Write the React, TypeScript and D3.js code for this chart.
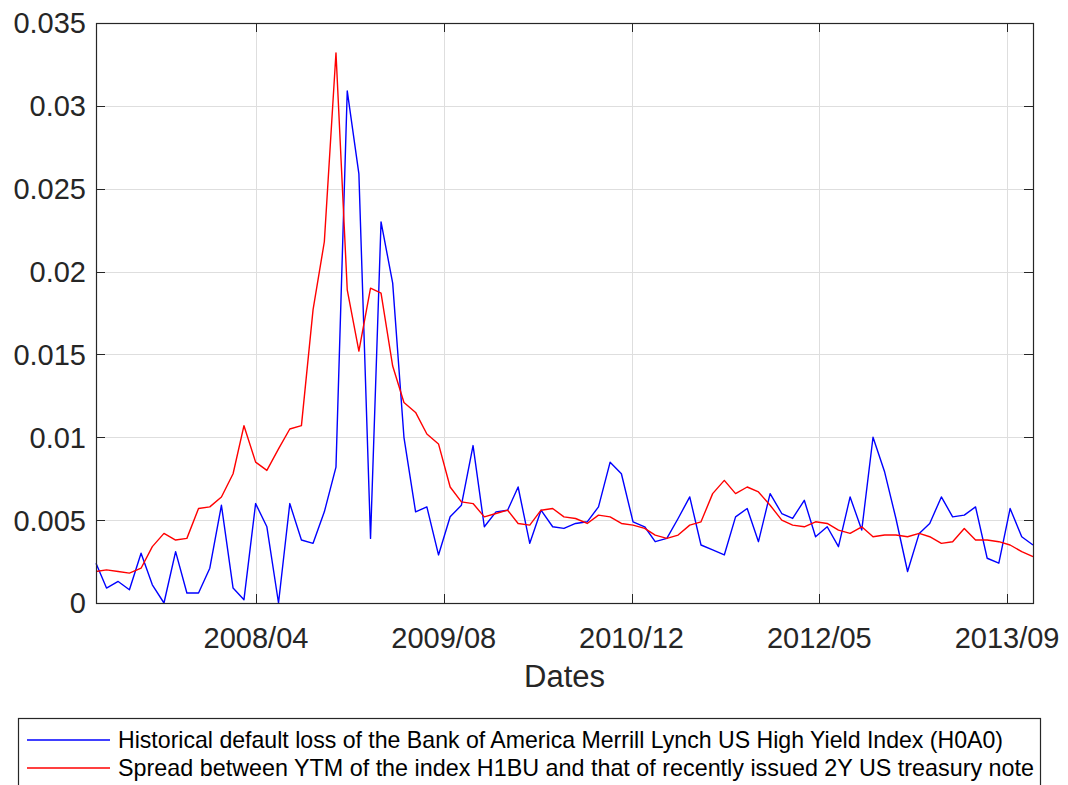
import React, { useEffect, useRef } from "react";
import * as d3 from "d3";

// monthly observations (end of month)
const months = [
  "2007/01", "2007/02", "2007/03", "2007/04", "2007/05", "2007/06", "2007/07", "2007/08", "2007/09", "2007/10", "2007/11", "2007/12",
  "2008/01", "2008/02", "2008/03", "2008/04", "2008/05", "2008/06", "2008/07", "2008/08", "2008/09", "2008/10", "2008/11", "2008/12",
  "2009/01", "2009/02", "2009/03", "2009/04", "2009/05", "2009/06", "2009/07", "2009/08", "2009/09", "2009/10", "2009/11", "2009/12",
  "2010/01", "2010/02", "2010/03", "2010/04", "2010/05", "2010/06", "2010/07", "2010/08", "2010/09", "2010/10", "2010/11", "2010/12",
  "2011/01", "2011/02", "2011/03", "2011/04", "2011/05", "2011/06", "2011/07", "2011/08", "2011/09", "2011/10", "2011/11", "2011/12",
  "2012/01", "2012/02", "2012/03", "2012/04", "2012/05", "2012/06", "2012/07", "2012/08", "2012/09", "2012/10", "2012/11", "2012/12",
  "2013/01", "2013/02", "2013/03", "2013/04", "2013/05", "2013/06", "2013/07", "2013/08", "2013/09", "2013/10", "2013/11",
];

const defaultLoss = [
  0.0024, 0.0009, 0.0013, 0.0008, 0.0030, 0.0011, 0.0000, 0.0031, 0.0006, 0.0006, 0.0021, 0.0059,
  0.0009, 0.0002, 0.0060, 0.0046, 0.0000, 0.0060, 0.0038, 0.0036, 0.0055, 0.0082, 0.0309, 0.0259,
  0.0039, 0.0230, 0.0193, 0.0100, 0.0055, 0.0058, 0.0029, 0.0052, 0.0059, 0.0095, 0.0046, 0.0055,
  0.0056, 0.0070, 0.0036, 0.0056, 0.0046, 0.0045, 0.0048, 0.0049, 0.0058, 0.0085, 0.0078, 0.0049,
  0.0046, 0.0037, 0.0039, 0.0051, 0.0064, 0.0035, 0.0032, 0.0029, 0.0052, 0.0057, 0.0037, 0.0066,
  0.0054, 0.0051, 0.0062, 0.0040, 0.0046, 0.0034, 0.0064, 0.0044, 0.0100, 0.0079, 0.0051, 0.0019,
  0.0042, 0.0048, 0.0064, 0.0052, 0.0053, 0.0058, 0.0027, 0.0024, 0.0057, 0.0040, 0.0035,
];

const spread = [
  0.0019, 0.0020, 0.0019, 0.0018, 0.0021, 0.0034, 0.0042, 0.0038, 0.0039, 0.0057, 0.0058, 0.0064,
  0.0078, 0.0107, 0.0085, 0.0080, 0.0093, 0.0105, 0.0107, 0.0177, 0.0218, 0.0332, 0.0189, 0.0152,
  0.0190, 0.0187, 0.0143, 0.0121, 0.0115, 0.0102, 0.0096, 0.0070, 0.0061, 0.0060, 0.0052, 0.0054,
  0.0056, 0.0048, 0.0047, 0.0056, 0.0057, 0.0052, 0.0051, 0.0048, 0.0053, 0.0052, 0.0048, 0.0047,
  0.0045, 0.0041, 0.0039, 0.0041, 0.0047, 0.0049, 0.0066, 0.0074, 0.0066, 0.0070, 0.0067, 0.0059,
  0.0050, 0.0047, 0.0046, 0.0049, 0.0048, 0.0044, 0.0042, 0.0046, 0.0040, 0.0041, 0.0041, 0.0040,
  0.0042, 0.0040, 0.0036, 0.0037, 0.0045, 0.0038, 0.0038, 0.0037, 0.0035, 0.0031, 0.0028,
];

const yTicks = [0, 0.005, 0.01, 0.015, 0.02, 0.025, 0.03, 0.035];
const yTickLabels = ["0", "0.005", "0.01", "0.015", "0.02", "0.025", "0.03", "0.035"];
const xTickDates = ["2008-04-01", "2009-08-14", "2010-12-27", "2012-05-10", "2013-09-22"];
const xTickLabels = ["2008/04", "2009/08", "2010/12", "2012/05", "2013/09"];
const seriesNames = [
  "Historical default loss of the Bank of America Merrill Lynch US High Yield Index (H0A0)",
  "Spread between YTM of the index H1BU and that of recently issued 2Y US treasury note",
];
const seriesColors = ["#0000ff", "#ff0000"];

const W = 1068;
const H = 785;
const plot = { left: 96, right: 1033, top: 23, bottom: 603 };
const axisColor = "#262626";
const font = "'Liberation Sans', Arial, Helvetica, sans-serif";

export default function App() {
  const ref = useRef<SVGSVGElement>(null);

  useEffect(() => {
    const svg = d3.select(ref.current);
    svg.selectAll("*").remove();

    const parseMonth = d3.timeParse("%Y/%m");
    const dates = months.map((m) => d3.timeDay.offset(d3.timeMonth.offset(parseMonth(m) as Date, 1), -1));
    const tickDates = xTickDates.map((s) => d3.timeParse("%Y-%m-%d")(s) as Date);

    const x = d3.scaleTime().domain([dates[0], dates[dates.length - 1]]).range([plot.left, plot.right]);
    const y = d3.scaleLinear().domain([0, 0.035]).range([plot.bottom, plot.top]);

    const g = svg.append("g");

    // grid
    g.selectAll(".gx")
      .data(tickDates)
      .enter()
      .append("line")
      .attr("x1", (d) => Math.round(x(d)) + 0.5)
      .attr("x2", (d) => Math.round(x(d)) + 0.5)
      .attr("y1", plot.top)
      .attr("y2", plot.bottom)
      .attr("stroke", "#dedede")
      .attr("stroke-width", 1);

    g.selectAll(".gy")
      .data(yTicks)
      .enter()
      .append("line")
      .attr("x1", plot.left)
      .attr("x2", plot.right)
      .attr("y1", (d) => Math.round(y(d)) + 0.5)
      .attr("y2", (d) => Math.round(y(d)) + 0.5)
      .attr("stroke", "#dedede")
      .attr("stroke-width", 1);

    // series
    const series = [defaultLoss, spread];
    series.forEach((vals, k) => {
      const line = d3
        .line<number>()
        .x((_, i) => x(dates[i]))
        .y((v) => y(v));
      g.append("path")
        .attr("d", line(vals))
        .attr("fill", "none")
        .attr("stroke", seriesColors[k])
        .attr("stroke-width", 1.4)
        .attr("stroke-linejoin", "round");
    });

    // axes box
    g.append("rect")
      .attr("x", plot.left + 0.5)
      .attr("y", plot.top + 0.5)
      .attr("width", plot.right - plot.left)
      .attr("height", plot.bottom - plot.top)
      .attr("fill", "none")
      .attr("stroke", axisColor)
      .attr("stroke-width", 1.2);

    const tickLen = 9;
    // y ticks (both sides, inward)
    yTicks.forEach((t, i) => {
      const py = Math.round(y(t)) + 0.5;
      g.append("line").attr("x1", plot.left).attr("x2", plot.left + tickLen).attr("y1", py).attr("y2", py).attr("stroke", axisColor);
      g.append("line").attr("x1", plot.right - tickLen).attr("x2", plot.right).attr("y1", py).attr("y2", py).attr("stroke", axisColor);
      g.append("text")
        .attr("x", plot.left - 10)
        .attr("y", y(t))
        .attr("dy", "0.36em")
        .attr("text-anchor", "end")
        .attr("font-family", font)
        .attr("font-size", 29)
        .attr("fill", axisColor)
        .text(yTickLabels[i]);
    });

    // x ticks (top and bottom, inward)
    tickDates.forEach((d, i) => {
      const px = Math.round(x(d)) + 0.5;
      g.append("line").attr("x1", px).attr("x2", px).attr("y1", plot.bottom - tickLen).attr("y2", plot.bottom).attr("stroke", axisColor);
      g.append("line").attr("x1", px).attr("x2", px).attr("y1", plot.top).attr("y2", plot.top + tickLen).attr("stroke", axisColor);
      g.append("text")
        .attr("x", x(d))
        .attr("y", plot.bottom + 45)
        .attr("text-anchor", "middle")
        .attr("font-family", font)
        .attr("font-size", 29)
        .attr("fill", axisColor)
        .text(xTickLabels[i]);
    });

    g.append("text")
      .attr("x", (plot.left + plot.right) / 2)
      .attr("y", 687)
      .attr("text-anchor", "middle")
      .attr("font-family", font)
      .attr("font-size", 31)
      .attr("fill", axisColor)
      .text("Dates");

    // legend
    const legend = svg.append("g");
    legend
      .append("rect")
      .attr("x", 18.5)
      .attr("y", 718.5)
      .attr("width", 1022)
      .attr("height", 90)
      .attr("fill", "#fff")
      .attr("stroke", axisColor)
      .attr("stroke-width", 1.2);

    const legendWidths = [885, 916];
    seriesNames.forEach((name, k) => {
      const ly = 740 + k * 28;
      legend.append("line").attr("x1", 27).attr("x2", 110).attr("y1", ly).attr("y2", ly).attr("stroke", seriesColors[k]).attr("stroke-width", 1.4);
      legend
        .append("text")
        .attr("x", 118)
        .attr("y", ly + 8)
        .attr("font-family", font)
        .attr("font-size", 24)
        .attr("fill", "#000")
        .attr("textLength", legendWidths[k])
        .attr("lengthAdjust", "spacingAndGlyphs")
        .text(name);
    });
  }, []);

  return (
    <div style={{ position: "absolute", left: 0, top: 0 }}>
      <svg ref={ref} width={W} height={H} />
    </div>
  );
}
